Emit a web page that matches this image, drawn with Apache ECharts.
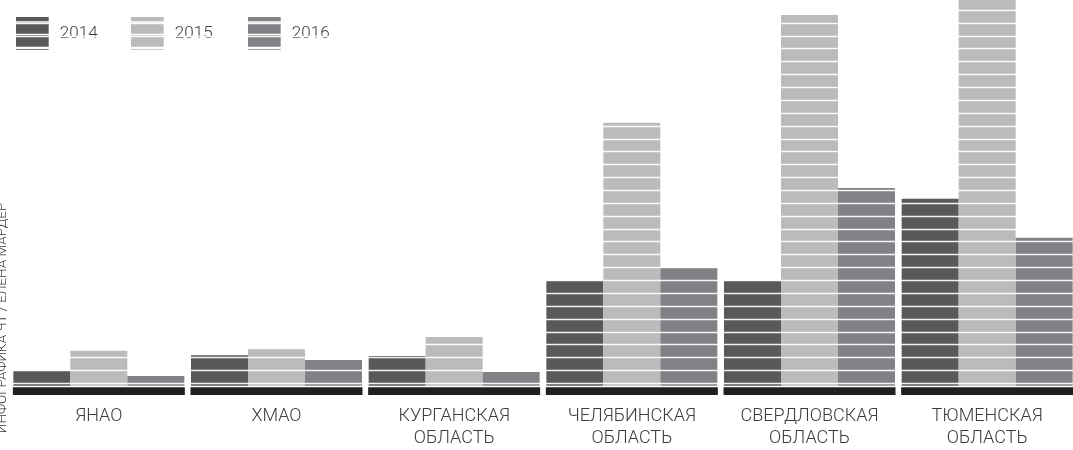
<!DOCTYPE html>
<html>
<head>
<meta charset="utf-8">
<title>Regions 2014-2016</title>
<script src="https://cdn.jsdelivr.net/npm/echarts@6/dist/echarts.min.js"></script>
<style>
  html, body { margin: 0; padding: 0; background: #fff; }
  #chart { width: 1073px; height: 450px; }
</style>
</head>
<body>
<div id="chart"></div>
<script>
// data (in "stripe" units, one white line = 1 unit)
const categories = ['ЯНАО', 'ХМАО', 'КУРГАНСКАЯ\nОБЛАСТЬ', 'ЧЕЛЯБИНСКАЯ\nОБЛАСТЬ', 'СВЕРДЛОВСКАЯ\nОБЛАСТЬ', 'ТЮМЕНСКАЯ\nОБЛАСТЬ'];
const years = ['2014', '2015', '2016'];
const values2014 = [1.17, 2.36, 2.31, 8.15, 8.14, 14.53];
const values2015 = [2.72, 2.83, 3.78, 20.43, 28.8, 31];
const values2016 = [0.75, 2.0, 1.06, 9.17, 15.36, 11.5];
const baseline = [1, 1, 1, 1, 1, 1];

const colors = ['#58595b', '#babbbd', '#818285'];
const font = 'Roboto';
// striped legend icon
const icon = 'path://M0 0H33V4.3H0Z M0 5.7H33V17H0Z M0 18.3H33V30H0Z M0 31.7H33V33.3H0Z';

let chart = echarts.init(document.getElementById('chart'));

let legendLeft = [16, 131, 248];
let legends = years.map((y, i) => ({
  data: [y],
  left: legendLeft[i],
  top: 17,
  padding: 0,
  icon: icon,
  itemWidth: 33,
  itemHeight: 33,
  selectedMode: false,
  textStyle: {
    fontFamily: font,
    fontWeight: 300,
    fontSize: 17,
    color: '#3c3c3c',
    padding: [0, 0, 0, 6]
  }
}));

// plot area runs a few px past the right edge, as in the source
let gl = 10, gr = -3;

let option = {
  animation: false,
  backgroundColor: '#fff',
  legend: legends,
  grid: [
    { left: gl, right: gr, top: 0, bottom: 64.3, outerBoundsMode: 'none' },     // bars
    { left: gl, right: gr, top: 10.07, bottom: 66.7, outerBoundsMode: 'none' }, // white stripes
    { left: gl, right: gr, top: 387.3, bottom: 55, outerBoundsMode: 'none' }    // black base
  ],
  xAxis: [
    { type: 'category', gridIndex: 0, data: categories, show: false },
    { type: 'value', gridIndex: 1, min: 0, max: 1, show: false },
    {
      type: 'category', gridIndex: 2, data: categories,
      axisLine: { show: false },
      axisTick: { show: false },
      axisLabel: {
        margin: 10,
        fontFamily: font,
        fontWeight: 300,
        fontSize: 18,
        lineHeight: 22,
        color: '#3c3c3c',
        interval: 0
      }
    }
  ],
  yAxis: [
    { type: 'value', gridIndex: 0, min: 0, max: 29.97, show: false },
    {
      type: 'value', gridIndex: 1, min: 0, max: 29, interval: 1, z: 10,
      axisLine: { show: false },
      axisTick: { show: false },
      axisLabel: { show: false },
      splitLine: { show: true, lineStyle: { color: 'rgba(255,255,255,0.92)', width: 1.3 } }
    },
    { type: 'value', gridIndex: 2, min: 0, max: 1, show: false }
  ],
  graphic: [
    {
      type: 'text',
      x: 3,
      y: 318,
      rotation: Math.PI / 2,
      style: {
        text: 'ИНФОГРАФИКА ЧТ / ЕЛЕНА МАРДЕР',
        fontFamily: font,
        fontWeight: 300,
        fontSize: 13.5,
        fill: '#333',
        align: 'center',
        verticalAlign: 'middle'
      }
    }
  ],
  series: [
    { name: years[0], type: 'bar', xAxisIndex: 0, yAxisIndex: 0, data: values2014, barWidth: 57, barGap: 0, itemStyle: { color: colors[0] } },
    { name: years[1], type: 'bar', xAxisIndex: 0, yAxisIndex: 0, data: values2015, barWidth: 57, barGap: 0, itemStyle: { color: colors[1] } },
    { name: years[2], type: 'bar', xAxisIndex: 0, yAxisIndex: 0, data: values2016, barWidth: 57, barGap: 0, itemStyle: { color: colors[2] } },
    { name: 'base', type: 'bar', xAxisIndex: 2, yAxisIndex: 2, data: baseline, barWidth: 172, itemStyle: { color: '#231f20' } }
  ]
};

chart.setOption(option);
</script>
</body>
</html>
